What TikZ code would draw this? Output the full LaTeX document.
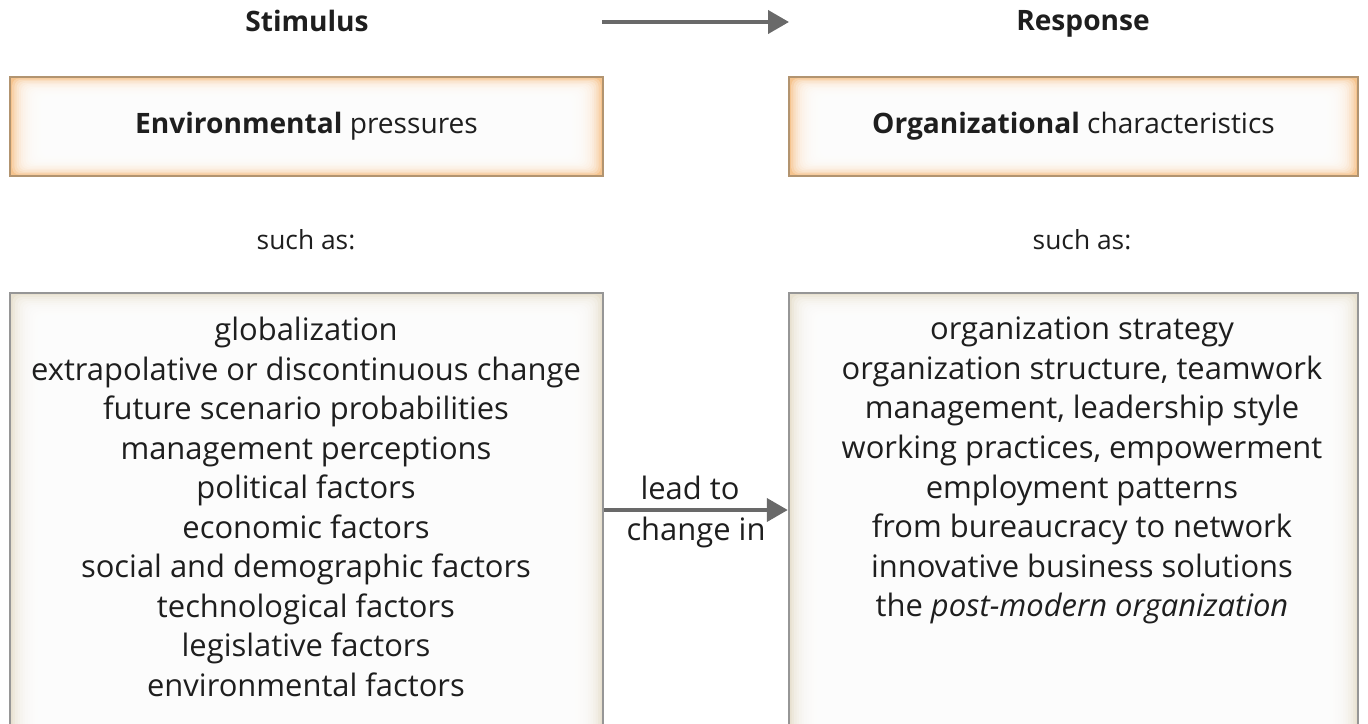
\documentclass[tikz,border=0pt]{standalone}
\usepackage{fontspec}
\setmainfont{Open Sans}
\usetikzlibrary{arrows.meta,fit,calc,positioning}
\definecolor{arrgray}{RGB}{105,105,105}
\definecolor{tanedge}{RGB}{178,148,112}
\definecolor{orangeglow}{RGB}{246,196,142}
\definecolor{beigeglow}{RGB}{232,225,208}
\definecolor{boxgray}{RGB}{150,150,150}
\definecolor{txt}{RGB}{30,30,30}

\begin{document}
\begin{tikzpicture}[x=0.02cm,y=-0.02cm,
  headtext/.style={font=\fontsize{16}{19}\selectfont, text=txt},
  boxtext/.style={font=\fontsize{15}{18}\selectfont, text=txt},
  list/.style={font=\fontsize{17.6}{22.5}\selectfont, text=txt, align=center, anchor=north},
  frame/.style={inner sep=0pt, draw=#1, line width=1.4pt},
  flow/.style={draw=arrgray, line width=2.3pt, -{Triangle[length=0.42cm,width=0.46cm]}}]
\useasboundingbox (0,0) rectangle (1368,723);

% soft glow inside the boxes
\foreach \xa/\ya/\xb/\yb/\col/\sx/\sy in {10/77/603/176/orangeglow/2.2/1.4, 789/77/1358/176/orangeglow/2.2/1.4,
    10/293/603/780/beigeglow/2.5/2, 789/293/1358/780/beigeglow/2.5/2}{
  \fill[\col] (\xa,\ya) rectangle (\xb,\yb);
  \foreach \i in {1,...,20}
    \fill[white, fill opacity=0.25, rounded corners=4] (\xa+\i*\sx,\ya+\i*\sy) rectangle (\xb-\i*\sx,\yb-\i*\sy);
}

% frames
\node[fit={(10,77) (603,176)}, frame=tanedge] (envbox) {};
\node[fit={(789,77) (1358,176)}, frame=tanedge] (orgbox) {};
\node[fit={(10,293) (603,780)}, frame=boxgray] (envlist) {};
\node[fit={(789,293) (1358,780)}, frame=boxgray] (orglist) {};

% headings
\node[headtext, anchor=base] (stim) at (307,32) {\textbf{Stimulus}};
\node[headtext, anchor=base] (resp) at (1083,31) {\textbf{Response}};
\coordinate (ta) at (602,22);
\coordinate (tb) at (789,22);
\draw[flow] (ta) -- (tb);

\node[headtext] (envtext) at (envbox) {\textbf{Environmental} pressures};
\node[headtext] (orgtext) at (orgbox) {\textbf{Organizational} characteristics};
\node[boxtext] (envsuch) at (306,240) {such as:};
\node[boxtext] (orgsuch) at (1082,240) {such as:};

% lists
\node[list] (envitems) at (306,311) {globalization\\
  extrapolative or discontinuous change\\
  future scenario probabilities\\
  management perceptions\\
  political factors\\
  economic factors\\
  social and demographic factors\\
  technological factors\\
  legislative factors\\
  environmental factors};
\node[list] (orgitems) at (1082,311) {organization strategy\\
  organization structure, teamwork\\
  management, leadership style\\
  working practices, empowerment\\
  employment patterns\\
  from bureaucracy to network\\
  innovative business solutions\\
  the \textit{post-modern organization}};

% middle arrow
\coordinate (mid) at (0,510);
\draw[flow] (envlist.east |- mid) -- (orglist.west |- mid);
\node[list, anchor=center] (leadto) at (690,488) {lead to};
\node[list, anchor=center] (changein) at (696,532) {change in};
\end{tikzpicture}
\end{document}
